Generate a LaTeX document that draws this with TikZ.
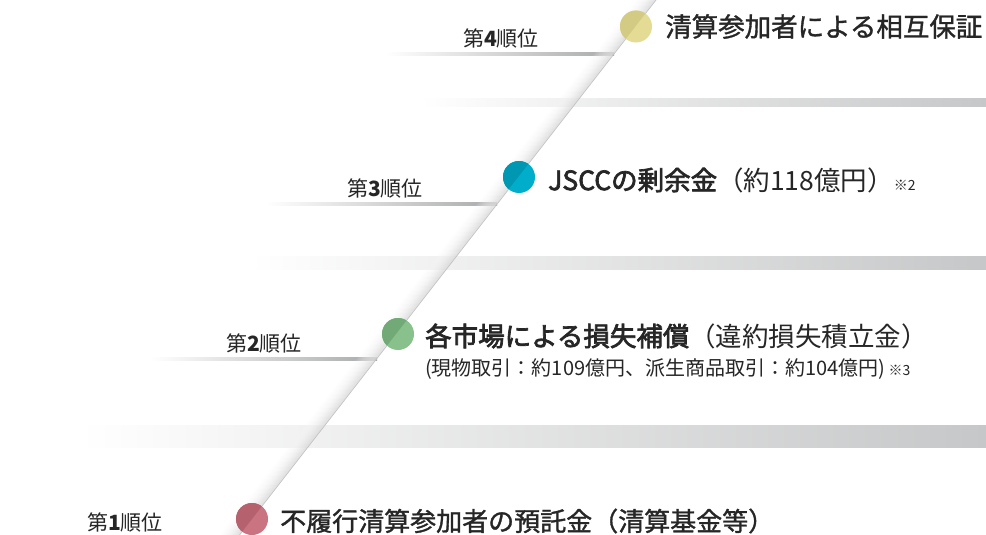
\documentclass[tikz,border=0pt]{standalone}
\usepackage{fontspec}
\setmainfont{Noto Sans CJK JP}
\newfontfamily\medj{Noto Sans CJK JP}[FakeBold=1.3]
\newfontfamily\semij{Noto Sans CJK JP}[FakeBold=2.6]
\newcommand\refmark[1]{{\fontsize{14}{14}\selectfont #1}}
\usetikzlibrary{calc}
\definecolor{txt}{HTML}{262626}
\definecolor{barR}{HTML}{C6C7C8}
\definecolor{barM}{HTML}{E2E2E3}
\definecolor{rankL}{HTML}{A9AAAB}
\definecolor{diagC}{HTML}{C2C2C4}
\definecolor{cY}{HTML}{E4DC95}
\definecolor{cYd}{HTML}{D3CA84}
\definecolor{cC}{HTML}{00AECB}
\definecolor{cCd}{HTML}{0097B2}
\definecolor{cG}{HTML}{88C18C}
\definecolor{cGd}{HTML}{71AA76}
\definecolor{cR}{HTML}{CA7381}
\definecolor{cRd}{HTML}{B6616E}
\tikzset{
  dot/.style={circle, minimum size=32pt, inner sep=0pt},
  rank/.style={anchor=west, inner sep=0pt, text=txt, font=\fontsize{21}{21}\selectfont},
  head/.style={anchor=west, inner sep=0pt, text=txt, font=\fontsize{26.5}{26.5}\selectfont},
  sub/.style={anchor=west, inner sep=0pt, text=txt, font=\fontsize{20}{20}\selectfont},
}
\begin{document}
\begin{tikzpicture}[x=1pt,y=-1pt]
\useasboundingbox (0,0) rectangle (986,535);
\fill[white] (0,0) rectangle (986,535);
% horizontal bars
\shade[left color=white, middle color=barM, right color=barR] (420,99) rectangle (986,107);
\shade[left color=white, middle color=barM, right color=barR] (250,256) rectangle (986,269);
\shade[left color=white, middle color=barM, right color=barR] (80,425) rectangle (986,447);
% rank underlines
\shade[left color=white, right color=rankL] (385,53) rectangle (614,56);
\shade[left color=white, right color=rankL] (265,202.5) rectangle (497,205.5);
\shade[left color=white, right color=rankL] (150,357.5) rectangle (377,360.5);
% diagonal fold
\coordinate (dtop) at (656,0);
\coordinate (dbot) at (239.5,535);
\foreach \i in {1,...,20}{
  \pgfmathtruncatemacro\gm{30*(1-\i/20)}
  \pgfmathsetmacro\op{0.7*(1-\i/21)}
  \draw[color=gray!\gm!white, opacity=\op, line width=1.2pt]
    ([xshift=-\i pt]dbot) -- ([xshift=-\i pt]dtop);
}
\draw[color=diagC, line width=0.7pt] (dbot) -- (dtop);
% circles
\node[dot, fill=cY] (c4) at (636,26.5) {};
\node[dot, fill=cC] (c3) at (519,177) {};
\node[dot, fill=cG] (c2) at (398,334) {};
\node[dot, fill=cR] (c1) at (252,519) {};
\foreach \c/\d in {c4/cYd, c3/cCd, c2/cGd, c1/cRd}{
  \begin{scope}
    \clip (\c.center) circle (16);
    \fill[\d] (dbot) -- (dtop) -- (0,0) -- (0,535) -- cycle;
  \end{scope}
}
% rank labels
\node[rank] (r4) at (463,38.5) {第\textbf{4}順位};
\node[rank] (r3) at (347,188) {第\textbf{3}順位};
\node[rank] (r2) at (226,343) {第\textbf{2}順位};
\node[rank] (r1) at (87,522) {第\textbf{1}順位};
% headings
\node[head] (t4) at ([xshift=29pt]c4.center) {\medj 清算参加者による相互保証};
\node[head] (t3) at ([xshift=29pt,yshift=-3pt]c3.center) {{\semij JSCCの剰余金}（約118億円）\refmark{※2}};
\node[head] (t2) at ([xshift=27pt,yshift=-2pt]c2.center) {{\semij 各市場による損失補償}（違約損失積立金）};
\node[sub] (t2b) at (425,369) {(現物取引：約109億円、派生商品取引：約104億円)\,\refmark{※3}};
\node[head, font=\fontsize{26}{26}\selectfont] (t1) at ([xshift=28pt,yshift=-2pt]c1.center) {\medj 不履行清算参加者の預託金（清算基金等）};
\end{tikzpicture}
\end{document}
